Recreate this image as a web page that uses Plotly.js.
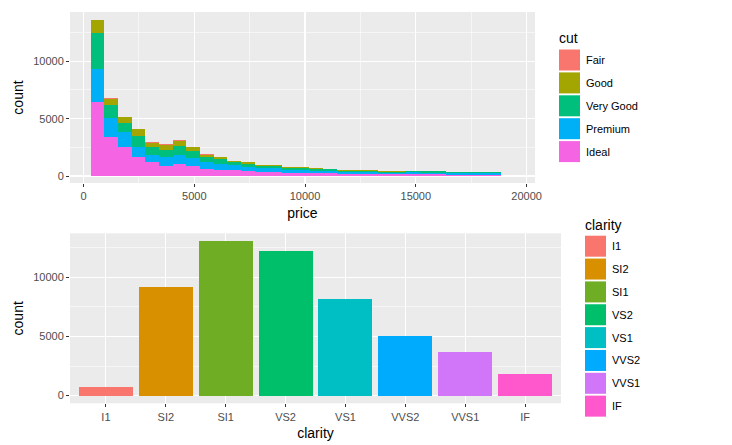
<!DOCTYPE html>
<html><head><meta charset="utf-8">
<script src="https://cdn.plot.ly/plotly-3.0.1.min.js"></script>
<style>html,body{margin:0;padding:0;background:#fff}#chart{width:732px;height:445px}</style>
</head><body><div id="chart"></div>
<script>
// ---- data ----
const cuts = ["Fair", "Good", "Very Good", "Premium", "Ideal"];
const cutColors = ["#F8766D", "#A3A500", "#00BF7D", "#00B0F6", "#F564E3"];
const binWidth = 616.57;
const binCenters = [634, 1251, 1868, 2484, 3101, 3717, 4334, 4951, 5567, 6184,
  6800, 7417, 8034, 8650, 9267, 9883, 10500, 11117, 11733, 12350,
  12966, 13583, 14200, 14816, 15433, 16049, 16666, 17283, 17899, 18516];
const fairCounts = [40, 40, 40, 40, 40, 45, 45, 40, 30, 25,
  15, 12, 10, 10, 8, 8, 8, 8, 6, 6, 6, 5, 5, 6, 6, 5, 4, 4, 4, 4];
const goodCounts = [1060, 540, 480, 550, 390, 445, 445, 320, 210, 185,
  115, 98, 80, 80, 62, 62, 52, 52, 44, 42, 44, 35, 35, 39, 39, 37, 31, 31, 31, 29];
const veryGoodCounts = [3200, 1160, 790, 960, 650, 650, 800, 600, 450, 390,
  280, 270, 210, 210, 170, 170, 150, 140, 115, 112, 110, 90, 90, 100, 100, 98, 85, 82, 82, 80];
const premiumCounts = [2820, 1600, 1300, 870, 650, 750, 800, 750, 580, 520,
  420, 390, 310, 320, 250, 250, 230, 220, 185, 185, 180, 150, 145, 165, 160, 160, 140, 135, 135, 132];
const idealCounts = [6480, 3430, 2560, 1680, 1200, 900, 1050, 850, 620, 560,
  500, 430, 350, 340, 270, 270, 230, 220, 180, 175, 170, 140, 135, 150, 145, 140, 120, 118, 118, 115];
const priceTicks = [0, 5000, 10000, 15000, 20000];
const countTicks = [0, 5000, 10000];

const clarity = ["I1", "SI2", "SI1", "VS2", "VS1", "VVS2", "VVS1", "IF"];
const clarityCounts = [741, 9194, 13065, 12258, 8171, 5066, 3655, 1790];
const clarityColors = ["#F8766D", "#D89000", "#6FAE24", "#00BF6A", "#00BFC4", "#00ABFD", "#D176F8", "#FF58CC"];

// ---- layout helpers ----
const W = 732, H = 445;
const px = x => x / W;
const py = y => 1 - y / H;
const FONT = "Liberation Sans, Arial, Helvetica, sans-serif";
const tickFont = {family: FONT, size: 11, color: "#4D4D4D"};
const titleFont = {family: FONT, size: 14, color: "#000000"};

const seriesByCut = {"Fair": fairCounts, "Good": goodCounts, "Very Good": veryGoodCounts,
  "Premium": premiumCounts, "Ideal": idealCounts};

const traces = [];
// Ideal at the bottom of the stack, Fair on top
for (let i = cuts.length - 1; i >= 0; i--) {
  traces.push({
    type: "bar", x: binCenters, y: seriesByCut[cuts[i]], width: binWidth,
    name: cuts[i], marker: {color: cutColors[i], line: {width: 0}},
    xaxis: "x", yaxis: "y", showlegend: false, hoverinfo: "skip"
  });
}
traces.push({
  type: "bar", x: clarity, y: clarityCounts, width: 0.9,
  marker: {color: clarityColors, line: {width: 0}},
  xaxis: "x2", yaxis: "y2", showlegend: false, hoverinfo: "skip"
});

const shapes = [], annotations = [];
function legend(title, labels, colors, keyX, titleY, firstKeyTop, step, key) {
  annotations.push({text: title, xref: "paper", yref: "paper", x: px(keyX - 2), y: py(titleY),
    xanchor: "left", yanchor: "middle", showarrow: false, font: {family: FONT, size: 14, color: "#000"}});
  labels.forEach((lab, i) => {
    const top = firstKeyTop + i * step;
    shapes.push({type: "rect", xref: "paper", yref: "paper", x0: px(keyX), x1: px(keyX + key),
      y0: py(top + key), y1: py(top), fillcolor: colors[i], line: {width: 0}, layer: "above"});
    annotations.push({text: lab, xref: "paper", yref: "paper", x: px(keyX + key + 4), y: py(top + key / 2),
      xanchor: "left", yanchor: "middle", showarrow: false, font: {family: FONT, size: 11, color: "#000"}});
  });
}
legend("cut", cuts, cutColors, 559, 38, 49.5, 22.9, 21);
legend("clarity", clarity, clarityColors, 585, 225, 235.7, 22.85, 21);

const gridCommon = {showgrid: true, gridcolor: "#FFFFFF", gridwidth: 1.1, zeroline: false,
  ticks: "outside", ticklen: 3, tickcolor: "#333333", tickwidth: 1, showline: false,
  tickfont: tickFont, automargin: false};

const layout = {
  width: W, height: H, margin: {l: 0, r: 0, t: 0, b: 0},
  paper_bgcolor: "#FFFFFF", plot_bgcolor: "#EBEBEB",
  barmode: "stack", bargap: 0, showlegend: false,
  xaxis: Object.assign({}, gridCommon, {
    domain: [px(70), px(535)], anchor: "y", range: [-610, 20380],
    tickmode: "array", tickvals: priceTicks, ticktext: priceTicks.map(String),
    minor: {showgrid: true, gridcolor: "#FFFFFF", gridwidth: 0.55, tickmode: "array",
      tickvals: [-2500, 2500, 7500, 12500, 17500]},
    title: {text: "price", font: titleFont, standoff: 6}
  }),
  yaxis: Object.assign({}, gridCommon, {
    domain: [py(183), py(12)], anchor: "x", range: [-610, 14300],
    tickmode: "array", tickvals: countTicks, ticktext: countTicks.map(String),
    minor: {showgrid: true, gridcolor: "#FFFFFF", gridwidth: 0.55, tickmode: "array",
      tickvals: [2500, 7500, 12500]},
    title: {text: "count", font: titleFont, standoff: 6}
  }),
  xaxis2: Object.assign({}, gridCommon, {
    domain: [px(70), px(561)], anchor: "y2", type: "category",
    categoryorder: "array", categoryarray: clarity, range: [-0.6, 7.6],
    title: {text: "clarity", font: titleFont, standoff: 6}
  }),
  yaxis2: Object.assign({}, gridCommon, {
    domain: [py(403.3), py(233.3)], anchor: "x2", range: [-650, 13720],
    tickmode: "array", tickvals: countTicks, ticktext: countTicks.map(String),
    minor: {showgrid: true, gridcolor: "#FFFFFF", gridwidth: 0.55, tickmode: "array",
      tickvals: [2500, 7500, 12500]},
    title: {text: "count", font: titleFont, standoff: 6}
  }),
  shapes: shapes, annotations: annotations
};

Plotly.newPlot("chart", traces, layout, {staticPlot: true, displayModeBar: false});
</script>
</body></html>
